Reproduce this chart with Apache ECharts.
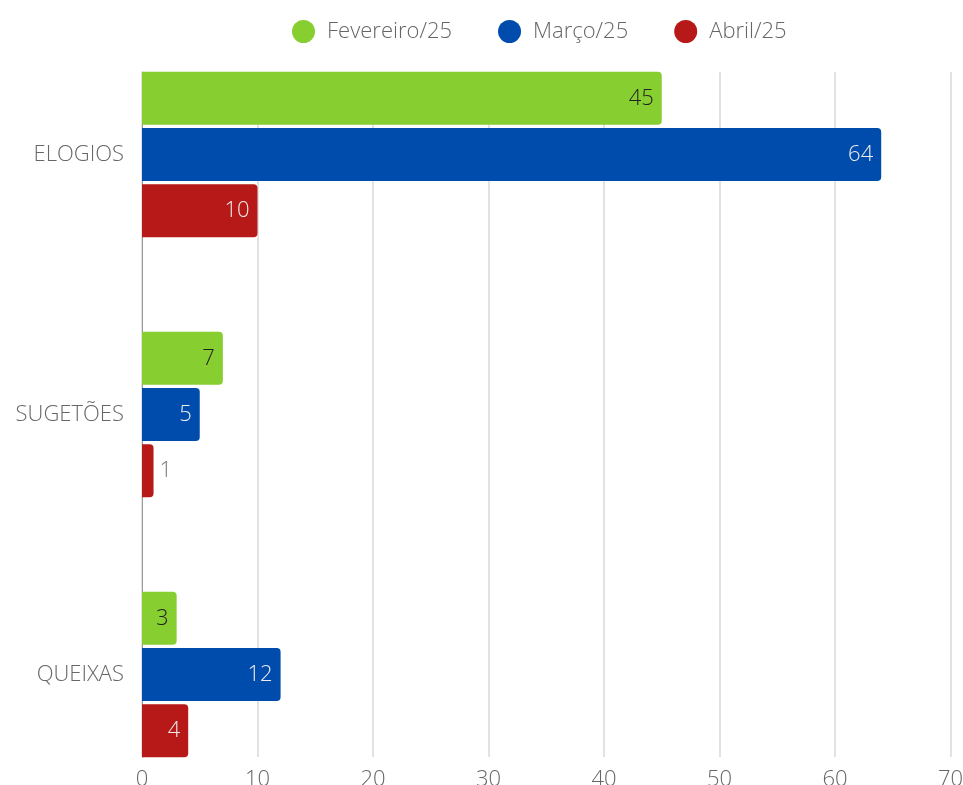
<!DOCTYPE html>
<html>
<head>
<meta charset="utf-8">
<script src="https://cdn.jsdelivr.net/npm/echarts@6/dist/echarts.min.js"></script>
<style>
html,body{margin:0;padding:0;background:#fff;}
#c{width:963px;height:785px;}
</style>
</head>
<body>
<div id="c"></div>
<script>
const categories = ['ELOGIOS', 'SUGETÕES', 'QUEIXAS'];
const seriesNames = ['Fevereiro/25', 'Março/25', 'Abril/25'];
const fevereiro = [45, 7, 3];
const marco = [64, 5, 12];
const abril = [10, 1, 4];
const xTicks = [0, 10, 20, 30, 40, 50, 60, 70];

const colors = ['#87CE30', '#004CAC', '#B71818'];
const insideText = ['#222222', '#EDEDED', '#EDEDED'];
const FONT = '"Open Sans", "Noto Sans", sans-serif';
const FS = 22;

function mkData(vals) {
  return vals.map(v => {
    if (v < 2) {
      return { value: v, label: { position: 'right', color: '#777777', distance: 6 } };
    }
    return v;
  });
}

const allVals = [fevereiro, marco, abril];
const series = allVals.map((vals, i) => ({
  name: seriesNames[i],
  type: 'bar',
  xAxisIndex: 0,
  yAxisIndex: 0,
  data: mkData(vals),
  barWidth: 53,
  barGap: '6%',
  itemStyle: { color: colors[i], borderRadius: [0, 4, 4, 0] },
  label: {
    show: true,
    position: 'insideRight',
    distance: 8,
    color: insideText[i],
    fontFamily: FONT,
    fontWeight: 300,
    fontSize: FS
  }
}));

const chart = echarts.init(document.getElementById('c'));
chart.setOption({
  animation: false,
  backgroundColor: '#ffffff',
  legend: {
    data: seriesNames,
    top: 15,
    left: 287,
    icon: 'circle',
    itemWidth: 23,
    itemHeight: 23,
    itemGap: 46,
    textStyle: { fontFamily: FONT, fontWeight: 300, fontSize: FS, color: '#666666', padding: [0, 0, 0, 7] }
  },
  grid: [
    { left: 142, right: 12.5, top: 24.5, bottom: -19.5, containLabel: false, outerBoundsMode: 'none' },
    { left: 142, right: 12.5, top: 72, bottom: 28, containLabel: false, outerBoundsMode: 'none' }
  ],
  xAxis: [
    { gridIndex: 0, type: 'value', min: 0, max: 70, interval: 10, show: false, splitLine: { show: false } },
    {
      gridIndex: 1, type: 'value', min: xTicks[0], max: xTicks[xTicks.length - 1], interval: 10,
      axisLine: { show: false }, axisTick: { show: false },
      splitLine: { show: true, lineStyle: { color: '#d9d9d9', width: 1.5 } },
      axisLabel: { margin: 12, fontFamily: FONT, fontWeight: 300, fontSize: FS, color: '#666666' }
    }
  ],
  yAxis: [
    {
      gridIndex: 0, type: 'category', data: categories, inverse: true,
      axisLine: { show: false }, axisTick: { show: false }, splitLine: { show: false },
      axisLabel: { margin: 18, fontFamily: FONT, fontWeight: 300, fontSize: FS, color: '#666666' }
    },
    {
      gridIndex: 1, type: 'category', data: categories, inverse: true,
      axisLine: { show: true, lineStyle: { color: '#999999', width: 1 } },
      axisTick: { show: false }, axisLabel: { show: false }, splitLine: { show: false }
    }
  ],
  series: series
});
</script>
</body>
</html>
